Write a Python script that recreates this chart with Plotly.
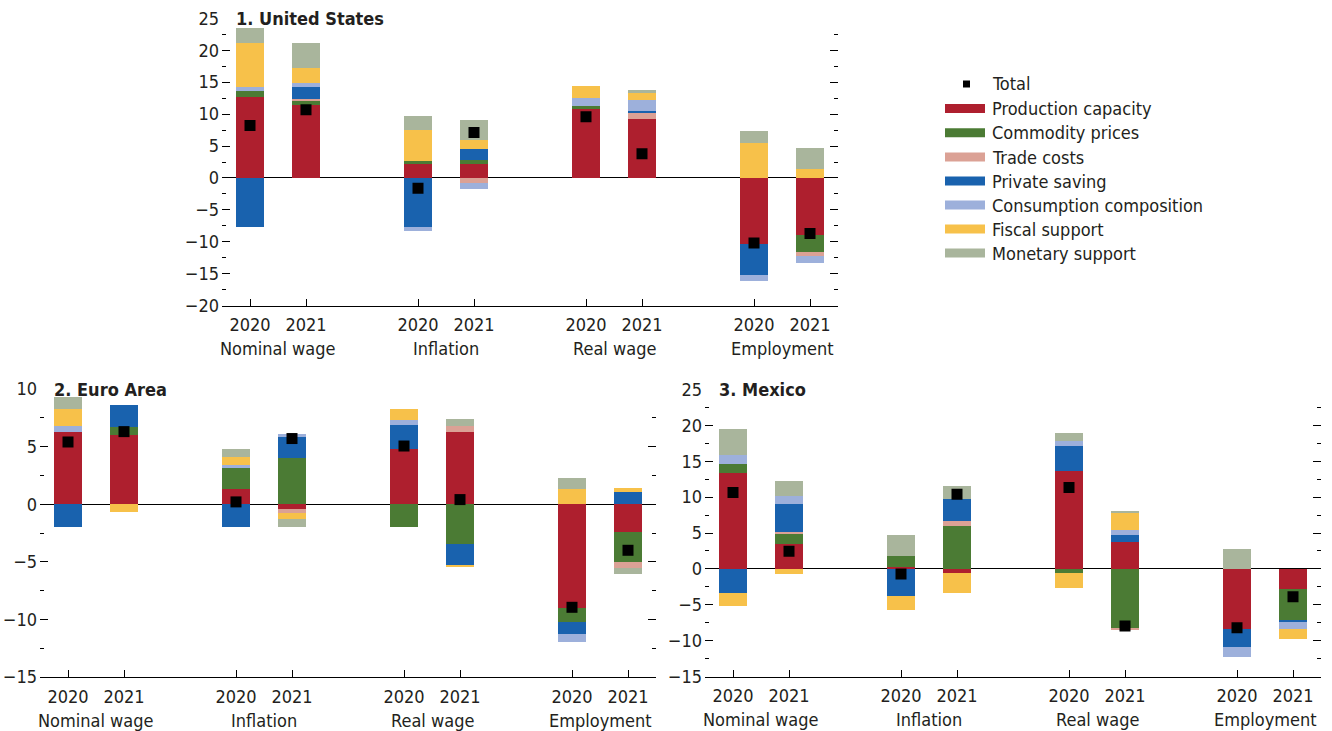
import plotly.graph_objects as go

# ---------------------------------------------------------------
# Data: contributions by factor (percentage points)
# order of each list: Nominal wage 2020, 2021, Inflation 2020, 2021,
#                     Real wage 2020, 2021, Employment 2020, 2021
# ---------------------------------------------------------------
groups = ["Nominal wage", "Inflation", "Real wage", "Employment"]
years = ["2020", "2021"]

factor_names = ["Production capacity", "Commodity prices", "Trade costs",
                "Private saving", "Consumption composition",
                "Fiscal support", "Monetary support"]

# 1. United States
us_production = [12.7, 11.4, 2.1, 2.2, 10.9, 9.2, -10.4, -9.0]
us_commodity = [0.8, 0.7, 0.5, 0.6, 0.25, 0.0, 0.0, -2.7]
us_trade = [0.0, 0.15, 0.0, -0.8, 0.0, 1.0, 0.0, -0.6]
us_saving = [-7.8, 2.0, -7.8, 1.7, 0.0, 0.3, -4.8, 0.0]
us_consumption = [0.7, 0.6, -0.6, -0.9, 1.3, 1.7, -1.0, -1.1]
us_fiscal = [6.9, 2.3, 4.9, 1.4, 1.9, 1.0, 5.4, 1.4]
us_monetary = [2.3, 4.0, 2.1, 3.2, 0.0, 0.5, 1.9, 3.3]
us_total = [8.2, 10.7, -1.6, 7.1, 9.6, 3.8, -10.2, -8.7]

# 2. Euro Area
ea_production = [6.3, 6.0, 1.3, -0.4, 4.8, 6.25, -9.0, -2.4]
ea_commodity = [0.0, 0.7, 1.85, 4.05, -2.0, -3.45, -1.25, -2.65]
ea_trade = [0.0, 0.0, 0.0, -0.4, 0.0, 0.5, 0.0, -0.45]
ea_saving = [-2.0, 1.9, -2.0, 1.8, 2.05, -1.85, -1.05, 1.1]
ea_consumption = [0.5, 0.0, 0.25, 0.25, 0.45, 0.0, -0.65, 0.0]
ea_fiscal = [1.5, -0.7, 0.7, -0.5, 0.95, -0.1, 1.3, 0.35]
ea_monetary = [1.0, 0.0, 0.7, -0.65, 0.0, 0.65, 1.0, -0.55]
ea_total = [5.4, 6.3, 0.2, 5.7, 5.05, 0.4, -8.95, -4.0]

# 3. Mexico
mx_production = [13.45, 3.5, 0.35, -0.55, 13.65, 3.75, -8.3, -2.7]
mx_commodity = [1.25, 1.5, 1.5, 6.05, -0.55, -8.3, 0.0, -4.45]
mx_trade = [0.0, 0.2, 0.0, 0.7, 0.0, -0.2, 0.0, 0.0]
mx_saving = [-3.3, 3.9, -3.65, 3.1, 3.5, 1.0, -2.55, -0.25]
mx_consumption = [1.3, 1.1, 0.0, 0.0, 0.7, 0.75, -1.4, -0.9]
mx_fiscal = [-1.85, -0.7, -1.95, -2.7, -2.1, 2.3, 0.0, -1.4]
mx_monetary = [3.6, 2.05, 2.9, 1.8, 1.2, 0.3, 2.8, 0.0]
mx_total = [10.65, 2.45, -0.7, 10.4, 11.35, -7.95, -8.2, -3.9]

# ---------------------------------------------------------------
# Styling
# ---------------------------------------------------------------
FONT = "Liberation Sans Narrow, Arial Narrow, DejaVu Sans Condensed, sans-serif"
TEXT = "#231F20"
FS = 18
colors = ["#AE1F2E", "#4B7B34", "#DBA195", "#1962AE", "#9DB0DB", "#F7C14A", "#A9B59C"]

W, H = 1332, 731

# slot positions: two years per group, one empty slot between groups
x_pos = [g * 3 + i for g in range(len(groups)) for i in range(len(years))]
x_text = [yr for g in groups for yr in years]

panels = [
    dict(title="1. United States", xa="x", ya="y",
         series=[us_production, us_commodity, us_trade, us_saving,
                 us_consumption, us_fiscal, us_monetary],
         total=us_total, yrange=[-20, 25],
         px=(222, 838), py=(18.3, 305.7)),
    dict(title="2. Euro Area", xa="x2", ya="y2",
         series=[ea_production, ea_commodity, ea_trade, ea_saving,
                 ea_consumption, ea_fiscal, ea_monetary],
         total=ea_total, yrange=[-15, 10],
         px=(40, 656), py=(389, 677)),
    dict(title="3. Mexico", xa="x3", ya="y3",
         series=[mx_production, mx_commodity, mx_trade, mx_saving,
                 mx_consumption, mx_fiscal, mx_monetary],
         total=mx_total, yrange=[-15, 25],
         px=(705, 1321), py=(389.5, 676.5)),
]

fig = go.Figure()

for p in panels:
    for name, vals, col in zip(factor_names, p["series"], colors):
        fig.add_trace(go.Bar(
            x=x_pos, y=vals, name=name, width=0.5,
            marker=dict(color=col, line=dict(width=0)),
            xaxis=p["xa"], yaxis=p["ya"], showlegend=False))
    fig.add_trace(go.Scatter(
        x=x_pos, y=p["total"], name="Total", mode="markers",
        marker=dict(symbol="square", size=11, color="black", line=dict(width=0)),
        xaxis=p["xa"], yaxis=p["ya"], showlegend=False))

annotations = []
layout_axes = {}
for i, p in enumerate(panels):
    sfx = "" if i == 0 else str(i + 1)
    x0, x1 = p["px"]
    top, bot = p["py"]
    layout_axes["xaxis" + sfx] = dict(
        domain=[x0 / W, x1 / W], anchor=p["ya"], range=[-0.5, 10.5],
        tickmode="array", tickvals=x_pos, ticktext=x_text,
        ticks="inside", ticklen=7, tickwidth=1, tickcolor="black",
        showline=True, linecolor="black", linewidth=1,
        showgrid=False, zeroline=False, fixedrange=True, automargin=False,
        ticklabelstandoff=3,
        tickfont=dict(family=FONT, size=FS, color=TEXT))
    layout_axes["yaxis" + sfx] = dict(
        domain=[1 - bot / H, 1 - top / H], anchor=p["xa"], range=p["yrange"],
        tick0=0, dtick=5, ticks="inside", ticklen=8, tickwidth=1.2,
        tickcolor="black", mirror="ticks", showline=False, showgrid=False,
        zeroline=True, zerolinecolor="black", zerolinewidth=1,
        minor=dict(dtick=2.5, tick0=0, ticks="inside", ticklen=4,
                   tickwidth=1.2, tickcolor="black", showgrid=False),
        ticklabelstandoff=2, fixedrange=True, automargin=False,
        tickfont=dict(family=FONT, size=FS, color=TEXT))
    # panel title
    annotations.append(dict(
        text="<b>" + p["title"] + "</b>", xref=p["xa"] + " domain", x=0,
        yref=p["ya"], y=p["yrange"][1], xanchor="left", yanchor="middle",
        xshift=12, showarrow=False,
        font=dict(family=FONT, size=FS, color=TEXT)))
    # group labels under the year ticks
    for g, gname in enumerate(groups):
        annotations.append(dict(
            text=gname, xref=p["xa"], x=g * 3 + 0.5,
            yref=p["ya"] + " domain", y=0, yanchor="middle", yshift=-43,
            showarrow=False, font=dict(family=FONT, size=FS, color=TEXT)))

# legend block
shapes = []
leg_x_text = 990
leg_rows = [84, 108.5, 132.8, 157, 181, 205, 229, 253]
annotations.append(dict(
    text="Total", xref="paper", yref="paper", x=leg_x_text / W,
    y=1 - leg_rows[0] / H, xanchor="left", yanchor="middle", showarrow=False,
    font=dict(family=FONT, size=FS, color=TEXT)))
shapes.append(dict(type="rect", xref="paper", yref="paper",
                   x0=963 / W, x1=970 / W, y0=1 - 87.5 / H, y1=1 - 80.5 / H,
                   fillcolor="black", line=dict(width=0)))
for name, col, yy in zip(factor_names, colors, leg_rows[1:]):
    shapes.append(dict(type="rect", xref="paper", yref="paper",
                       x0=945 / W, x1=985 / W,
                       y0=1 - (yy + 4.5) / H, y1=1 - (yy - 4.5) / H,
                       fillcolor=col, line=dict(width=0)))
    annotations.append(dict(
        text=name, xref="paper", yref="paper", x=leg_x_text / W,
        y=1 - yy / H, xanchor="left", yanchor="middle", showarrow=False,
        font=dict(family=FONT, size=FS, color=TEXT)))

fig.update_layout(
    width=W, height=H, margin=dict(l=0, r=0, t=0, b=0, pad=0),
    paper_bgcolor="white", plot_bgcolor="white",
    barmode="relative", bargap=0, showlegend=False,
    font=dict(family=FONT, size=FS, color=TEXT),
    annotations=annotations, shapes=shapes,
    **layout_axes)

fig.write_html("out.html")
